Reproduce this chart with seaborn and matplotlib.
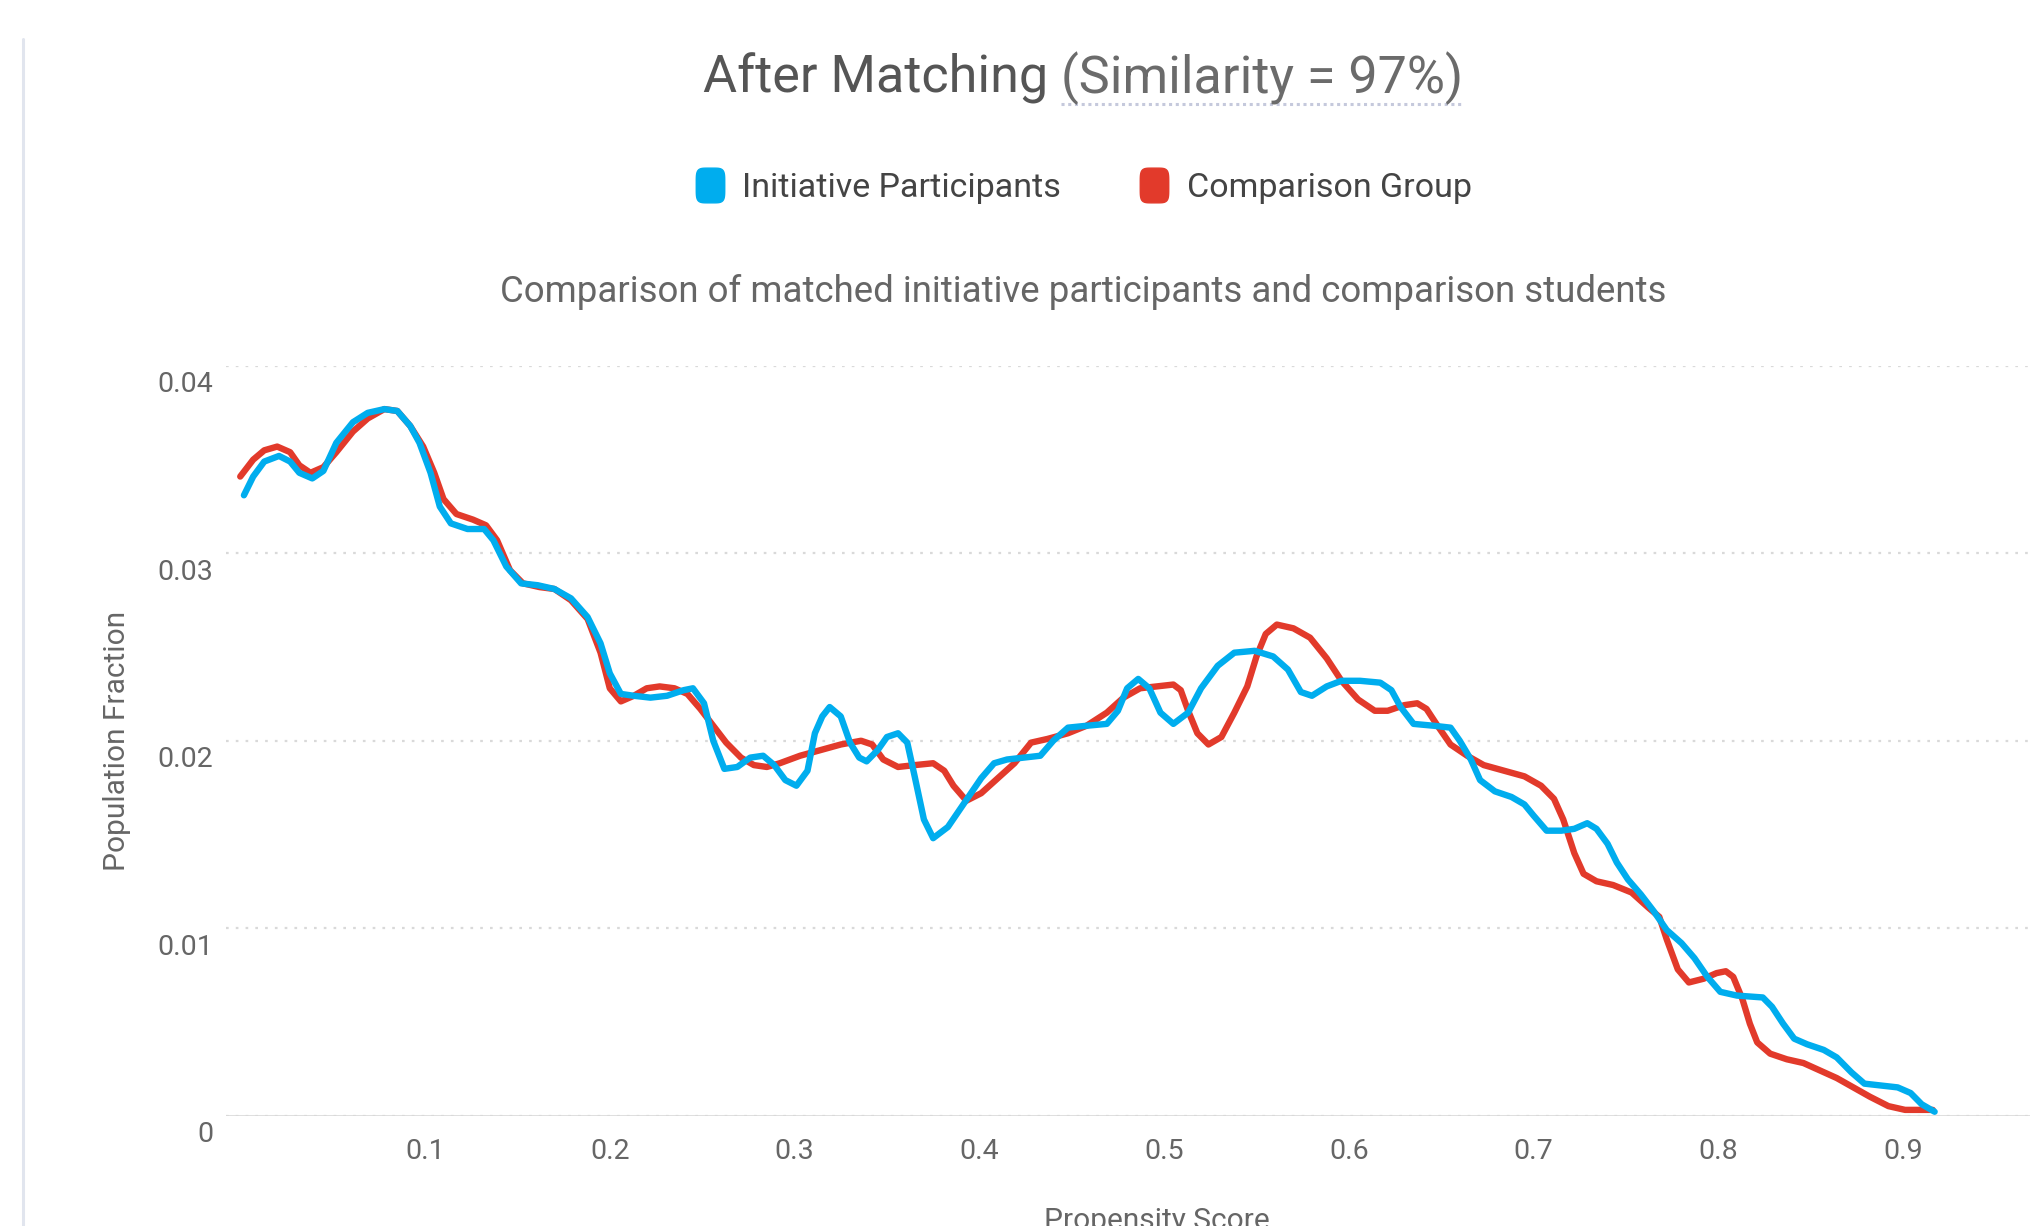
import numpy as np
import pandas as pd
import matplotlib
matplotlib.use("Agg")
import matplotlib.pyplot as plt
import seaborn as sns
from matplotlib.lines import Line2D
from matplotlib.path import Path
from matplotlib.transforms import ScaledTranslation

# propensity score (x) and population fraction (y)
participants_x = [
    0.002, 0.007, 0.013, 0.021, 0.027, 0.032, 0.039, 0.045, 0.052, 0.061,
    0.069, 0.078, 0.085, 0.092, 0.097, 0.103, 0.108, 0.114, 0.123, 0.132,
    0.137, 0.144, 0.152, 0.161, 0.170, 0.179, 0.188, 0.195, 0.200, 0.206,
    0.213, 0.222, 0.231, 0.240, 0.245, 0.251, 0.256, 0.262, 0.269, 0.276,
    0.283, 0.289, 0.295, 0.301, 0.307, 0.311, 0.315, 0.319, 0.325, 0.330,
    0.335, 0.339, 0.345, 0.350, 0.356, 0.361, 0.365, 0.370, 0.375, 0.383,
    0.392, 0.401, 0.408, 0.415, 0.424, 0.433, 0.440, 0.448, 0.458, 0.469,
    0.475, 0.480, 0.486, 0.492, 0.498, 0.505, 0.513, 0.520, 0.529, 0.538,
    0.549, 0.559, 0.567, 0.574, 0.580, 0.588, 0.596, 0.606, 0.617, 0.623,
    0.628, 0.635, 0.646, 0.655, 0.660, 0.666, 0.671, 0.679, 0.688, 0.695,
    0.700, 0.707, 0.715, 0.722, 0.729, 0.734, 0.740, 0.745, 0.751, 0.758,
    0.765, 0.772, 0.780, 0.787, 0.794, 0.801, 0.810, 0.824, 0.829, 0.835,
    0.841, 0.848, 0.857, 0.864, 0.872, 0.879, 0.888, 0.897, 0.904, 0.910,
    0.917,
]
participants_y = [
    0.0331, 0.0341, 0.0349, 0.0352, 0.0349, 0.0343, 0.0340, 0.0344, 0.0359, 0.0370,
    0.0375, 0.0377, 0.0376, 0.0368, 0.0359, 0.0343, 0.0325, 0.0316, 0.0313, 0.0313,
    0.0307, 0.0293, 0.0284, 0.0283, 0.0281, 0.0276, 0.0266, 0.0252, 0.0236, 0.0225,
    0.0224, 0.0223, 0.0224, 0.0227, 0.0228, 0.0220, 0.0200, 0.0185, 0.0186, 0.0191,
    0.0192, 0.0187, 0.0179, 0.0176, 0.0184, 0.0204, 0.0213, 0.0218, 0.0213, 0.0199,
    0.0191, 0.0189, 0.0195, 0.0202, 0.0204, 0.0199, 0.0181, 0.0158, 0.0148, 0.0154,
    0.0167, 0.0180, 0.0188, 0.0190, 0.0191, 0.0192, 0.0200, 0.0207, 0.0208, 0.0209,
    0.0216, 0.0228, 0.0233, 0.0228, 0.0215, 0.0209, 0.0215, 0.0228, 0.0240, 0.0247,
    0.0248, 0.0245, 0.0238, 0.0226, 0.0224, 0.0229, 0.0232, 0.0232, 0.0231, 0.0227,
    0.0218, 0.0209, 0.0208, 0.0207, 0.0200, 0.0190, 0.0179, 0.0173, 0.0170, 0.0166,
    0.0160, 0.0152, 0.0152, 0.0153, 0.0156, 0.0153, 0.0145, 0.0135, 0.0126, 0.0118,
    0.0109, 0.0099, 0.0092, 0.0084, 0.0074, 0.0066, 0.0064, 0.0063, 0.0058, 0.0049,
    0.0041, 0.0038, 0.0035, 0.0031, 0.0023, 0.0017, 0.0016, 0.0015, 0.0012, 0.0006,
    0.0002,
]

comparison_x = [
    0.000, 0.007, 0.013, 0.020, 0.027, 0.032, 0.038, 0.045, 0.052, 0.061,
    0.069, 0.078, 0.085, 0.092, 0.099, 0.105, 0.110, 0.117, 0.126, 0.133,
    0.139, 0.146, 0.153, 0.162, 0.170, 0.179, 0.188, 0.195, 0.200, 0.206,
    0.213, 0.220, 0.227, 0.235, 0.242, 0.249, 0.256, 0.263, 0.271, 0.278,
    0.285, 0.292, 0.303, 0.314, 0.325, 0.336, 0.342, 0.348, 0.356, 0.365,
    0.375, 0.381, 0.386, 0.393, 0.401, 0.410, 0.419, 0.428, 0.437, 0.448,
    0.458, 0.469, 0.478, 0.487, 0.496, 0.505, 0.509, 0.513, 0.518, 0.524,
    0.531, 0.538, 0.545, 0.550, 0.555, 0.561, 0.570, 0.579, 0.588, 0.596,
    0.605, 0.614, 0.621, 0.630, 0.637, 0.642, 0.648, 0.655, 0.664, 0.673,
    0.684, 0.695, 0.704, 0.711, 0.716, 0.722, 0.727, 0.734, 0.743, 0.753,
    0.762, 0.768, 0.772, 0.778, 0.784, 0.792, 0.799, 0.804, 0.808, 0.813,
    0.817, 0.821, 0.828, 0.837, 0.846, 0.855, 0.864, 0.873, 0.882, 0.892,
    0.901, 0.910, 0.916,
]
comparison_y = [
    0.0341, 0.0350, 0.0355, 0.0357, 0.0354, 0.0347, 0.0343, 0.0346, 0.0354, 0.0365,
    0.0372, 0.0377, 0.0376, 0.0368, 0.0357, 0.0343, 0.0329, 0.0321, 0.0318, 0.0315,
    0.0307, 0.0291, 0.0284, 0.0282, 0.0281, 0.0275, 0.0265, 0.0247, 0.0228, 0.0221,
    0.0224, 0.0228, 0.0229, 0.0228, 0.0225, 0.0217, 0.0208, 0.0199, 0.0191, 0.0187,
    0.0186, 0.0188, 0.0192, 0.0195, 0.0198, 0.0200, 0.0198, 0.0190, 0.0186, 0.0187,
    0.0188, 0.0184, 0.0176, 0.0168, 0.0172, 0.0180, 0.0188, 0.0199, 0.0201, 0.0204,
    0.0208, 0.0215, 0.0223, 0.0228, 0.0229, 0.0230, 0.0227, 0.0216, 0.0204, 0.0198,
    0.0202, 0.0215, 0.0229, 0.0245, 0.0257, 0.0262, 0.0260, 0.0255, 0.0244, 0.0232,
    0.0222, 0.0216, 0.0216, 0.0219, 0.0220, 0.0217, 0.0208, 0.0198, 0.0192, 0.0187,
    0.0184, 0.0181, 0.0176, 0.0169, 0.0158, 0.0140, 0.0129, 0.0125, 0.0123, 0.0119,
    0.0111, 0.0106, 0.0094, 0.0078, 0.0071, 0.0073, 0.0076, 0.0077, 0.0074, 0.0062,
    0.0049, 0.0039, 0.0033, 0.0030, 0.0028, 0.0024, 0.0020, 0.0015, 0.0010, 0.0005,
    0.0003, 0.0003, 0.0003,
]

GROUPS = ["Comparison Group", "Initiative Participants"]
COLORS = {"Initiative Participants": "#00adee", "Comparison Group": "#e23a2b"}
Y_TICKS = [0, 0.01, 0.02, 0.03, 0.04]
Y_TICK_LABELS = ["0", "0.01", "0.02", "0.03", "0.04"]
X_TICKS = [0.1, 0.2, 0.3, 0.4, 0.5, 0.6, 0.7, 0.8, 0.9]
X_TICK_LABELS = ["0.1", "0.2", "0.3", "0.4", "0.5", "0.6", "0.7", "0.8", "0.9"]

df = pd.concat([
    pd.DataFrame({"score": participants_x, "fraction": participants_y,
                  "group": "Initiative Participants"}),
    pd.DataFrame({"score": comparison_x, "fraction": comparison_y,
                  "group": "Comparison Group"}),
])

sns.set_style("white")
plt.rcParams["font.family"] = ["Roboto", "DejaVu Sans"]

W, H = 2031, 1226
fig = plt.figure(figsize=(W / 100, H / 100), dpi=100)
# plot area runs past the right edge, like the cropped original
ax = fig.add_axes([226 / W, 1 - 1115.5 / H, (2088 - 226) / W, (1115.5 - 366) / H])

sns.lineplot(data=df, x="score", y="fraction", hue="group", hue_order=GROUPS,
             palette=COLORS, linewidth=4.6, legend=False, ax=ax,
             solid_joinstyle="round", solid_capstyle="round")

ax.set_xlim(-0.0077, 1.0)
ax.set_ylim(0, 0.04)
ax.set_xticks(X_TICKS, X_TICK_LABELS)
ax.set_yticks(Y_TICKS, Y_TICK_LABELS)
for side in ax.spines:
    ax.spines[side].set_visible(False)
ax.tick_params(axis="both", length=0, labelsize=20.5, labelcolor="#666666")
ax.tick_params(axis="y", pad=9)
ax.tick_params(axis="x", pad=16)
for lab in ax.get_yticklabels():
    lab.set_transform(lab.get_transform() + ScaledTranslation(0, -0.16, fig.dpi_scale_trans))

ax.yaxis.grid(True, color="#d9d9d9", linewidth=1.6, linestyle=(0, (1.2, 3.2)))
ax.xaxis.grid(False)
ax.set_axisbelow(True)
ax.axhline(0, color="#dcdcdc", linewidth=2, zorder=0.5)

ax.set_ylabel("Population Fraction", fontsize=21.5, color="#666666")
ax.yaxis.set_label_coords(-0.051, 0.5)
ax.set_xlabel("Propensity Score", fontsize=21.5, color="#666666")
ax.xaxis.set_label_coords(0.5, -0.122)

# header: title with a dotted underline on the similarity part
cx = 1083 / W
fig.canvas.draw()
renderer = fig.canvas.get_renderer()
t1 = fig.text(0, 1 - 93 / H, "After Matching ", fontsize=37.5, color="#555555",
              va="baseline", ha="left")
t2 = fig.text(0, 1 - 93 / H, "(Similarity = 97%)", fontsize=37.5, color="#6b6b6b",
              va="baseline", ha="left")
w1 = t1.get_window_extent(renderer).width
w2 = t2.get_window_extent(renderer).width
x0 = cx * W - (w1 + w2) / 2
t1.set_x(x0 / W)
t2.set_x((x0 + w1) / W)
fig.add_artist(Line2D([(x0 + w1) / W, (x0 + w1 + w2) / W], [1 - 104 / H, 1 - 104 / H],
                      transform=fig.transFigure, color="#c5c9dc", linewidth=2.2,
                      linestyle=(0, (1, 1.2))))

fig.text(cx, 1 - 302 / H,
         "Comparison of matched initiative participants and comparison students",
         fontsize=26.4, color="#666666", ha="center", va="baseline")

# legend with rounded square markers
t = np.linspace(0, 2 * np.pi, 80)
n = 5
verts = np.column_stack([np.sign(np.cos(t)) * np.abs(np.cos(t)) ** (2 / n) * 0.82,
                         np.sign(np.sin(t)) * np.abs(np.sin(t)) ** (2 / n)])
marker = Path(verts, closed=True)
handles = [Line2D([], [], marker=marker, linestyle="none", markersize=25,
                  color=COLORS[g], label=g)
           for g in ["Initiative Participants", "Comparison Group"]]
fig.legend(handles=handles, loc="center", bbox_to_anchor=(cx, 1 - 188 / H),
           ncol=2, frameon=False, fontsize=24.5, labelcolor="#444444",
           handlelength=0.9, handletextpad=0.5, columnspacing=2.3,
           borderaxespad=0, borderpad=0)

# container border on the left
fig.add_artist(Line2D([23 / W, 23 / W], [0, 1 - 39 / H], transform=fig.transFigure,
                      color="#e1e5ee", linewidth=2.2))

fig.savefig("out.png", dpi=100)
